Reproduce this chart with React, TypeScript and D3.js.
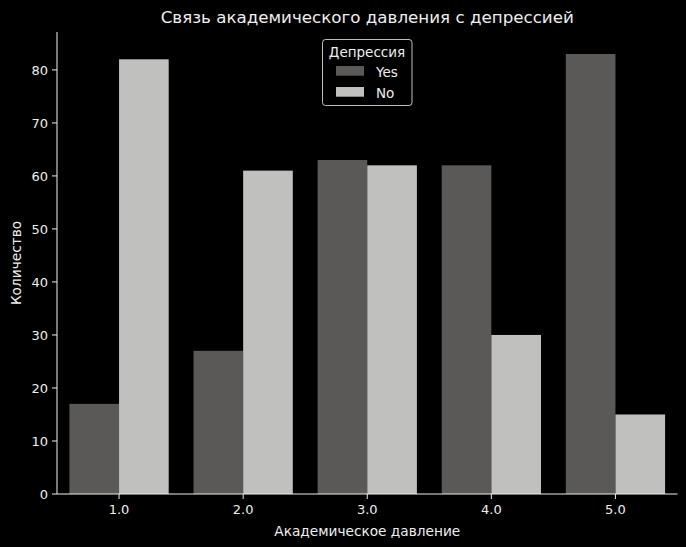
import React from "react";
import * as d3 from "d3";

const categories = ["1.0", "2.0", "3.0", "4.0", "5.0"];
const seriesNames = ["Yes", "No"];
const yesValues = [17, 27, 63, 62, 83];
const noValues = [82, 61, 62, 30, 15];
const yTicks = [0, 10, 20, 30, 40, 50, 60, 70, 80];
const colors = ["#5a5957", "#c0c0be"];

const W = 686;
const H = 547;
const left = 57;
const right = 677.5;
const top = 32;
const bottom = 494;
const textColor = "#eeeeee";
const font = "DejaVu Sans";

export default function App() {
  const x = d3.scaleLinear().domain([-0.5, categories.length - 0.5]).range([left, right]);
  const yMax = d3.max([...yesValues, ...noValues])! * 1.05;
  const y = d3.scaleLinear().domain([0, yMax]).range([bottom, top]);
  const series = [yesValues, noValues];
  const bw = 0.4;

  return (
    <svg width={W} height={H} style={{ position: "absolute", left: 0, top: 0, background: "#000" }}>
      <rect x={0} y={0} width={W} height={H} fill="#000" />
      {series.map((vals, si) =>
        vals.map((v, i) => {
          const x0 = x(i - 0.4 + si * bw);
          const x1 = x(i - 0.4 + (si + 1) * bw);
          return (
            <rect key={`${si}-${i}`} x={x0} y={y(v)} width={x1 - x0} height={y(0) - y(v)} fill={colors[si]} />
          );
        })
      )}
      <line x1={left} x2={left} y1={top} y2={bottom} stroke={textColor} strokeWidth={1} />
      <line x1={left} x2={right} y1={bottom} y2={bottom} stroke={textColor} strokeWidth={1} />
      {yTicks.map((t) => (
        <g key={t}>
          <line x1={left - 5} x2={left} y1={y(t)} y2={y(t)} stroke={textColor} />
          <text x={left - 9} y={y(t)} dy="0.36em" textAnchor="end" fontFamily={font} fontSize={13} fill={textColor}>
            {t}
          </text>
        </g>
      ))}
      {categories.map((c, i) => (
        <g key={c}>
          <line x1={x(i)} x2={x(i)} y1={bottom} y2={bottom + 5} stroke={textColor} />
          <text x={x(i)} y={bottom + 20} textAnchor="middle" fontFamily={font} fontSize={13} fill={textColor}>
            {c}
          </text>
        </g>
      ))}
      <text x={(left + right) / 2} y={536} textAnchor="middle" fontFamily={font} fontSize={13.7} fill={textColor}>
        Академическое давление
      </text>
      <text
        transform={`translate(21, ${(top + bottom) / 2}) rotate(-90)`}
        textAnchor="middle"
        fontFamily={font}
        fontSize={13.7}
        fill={textColor}
      >
        Количество
      </text>
      <text x={(left + right) / 2} y={23} textAnchor="middle" fontFamily={font} fontSize={16.7} fill={textColor}>
        Связь академического давления с депрессией
      </text>
      <g>
        <rect x={322.5} y={39.5} width={89.5} height={66} rx={3} fill="#000" stroke={textColor} strokeOpacity={0.8} />
        <text x={367} y={56.5} textAnchor="middle" fontFamily={font} fontSize={13.5} fill={textColor}>
          Депрессия
        </text>
        {seriesNames.map((s, i) => (
          <g key={s}>
            <rect x={336} y={66 + i * 21} width={28} height={9.7} fill={colors[i]} />
            <text x={376} y={76.5 + i * 21} fontFamily={font} fontSize={13.5} fill={textColor}>
              {s}
            </text>
          </g>
        ))}
      </g>
    </svg>
  );
}
